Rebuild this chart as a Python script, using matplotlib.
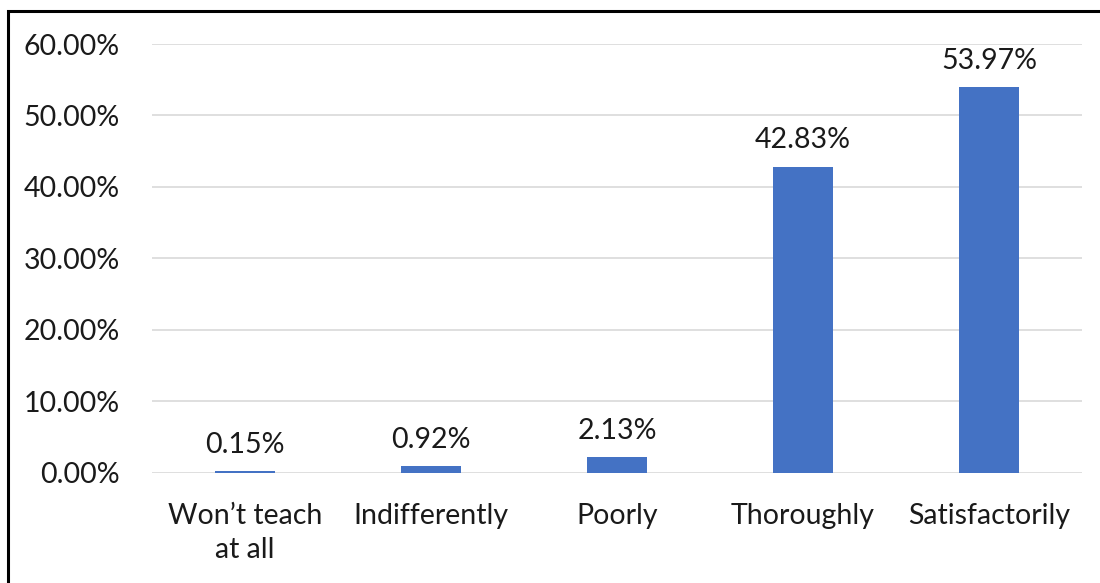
import matplotlib
matplotlib.use('Agg')
import matplotlib.pyplot as plt
from matplotlib.patches import Rectangle
from matplotlib.ticker import FuncFormatter

categories = [u'Won\u2019t teach\nat all', 'Indifferently', 'Poorly',
              'Thoroughly', 'Satisfactorily']
values = [0.15, 0.92, 2.13, 42.83, 53.97]
yticks = [0, 10, 20, 30, 40, 50, 60]

plt.rcParams['font.family'] = ['Lato', 'DejaVu Sans']

fig = plt.figure(figsize=(11, 5.83), dpi=100)
ax = fig.add_axes([0.1382, 0.1895, 0.8454, 0.735])

x = range(len(categories))
bars = ax.bar(x, values, width=0.32, color='#4472C4', zorder=3)

for b, v in zip(bars, values):
    ax.annotate('{:.2f}%'.format(v), (b.get_x() + b.get_width() / 2, v),
                xytext=(0, 19), textcoords='offset points',
                ha='center', va='center', fontsize=20.5, color='#1a1a1a')

ax.set_xlim(-0.5, len(categories) - 0.5)
ax.set_ylim(0, 60)
ax.set_yticks(yticks)
ax.yaxis.set_major_formatter(FuncFormatter(lambda v, p: '{:.2f}%'.format(v)))
ax.set_xticks(list(x))
ax.set_xticklabels(categories, fontsize=20.5, color='#1a1a1a', va='top',
                   linespacing=1.4)
ax.tick_params(axis='y', labelsize=20.5, labelcolor='#1a1a1a', length=0, pad=23)
ax.tick_params(axis='x', length=0, pad=22)
ax.grid(axis='y', color='#d9d9d9', linewidth=1.2, zorder=0)
for s in ax.spines.values():
    s.set_visible(False)

# frame of the cropped chart: only left and top edges are visible
fig.patches.append(Rectangle((8 / 1100, -0.1), 1.2, 1 - 11 / 583 + 0.1,
                             transform=fig.transFigure, fill=False,
                             edgecolor='black', linewidth=2.2))

fig.savefig('out.png', dpi=100)
